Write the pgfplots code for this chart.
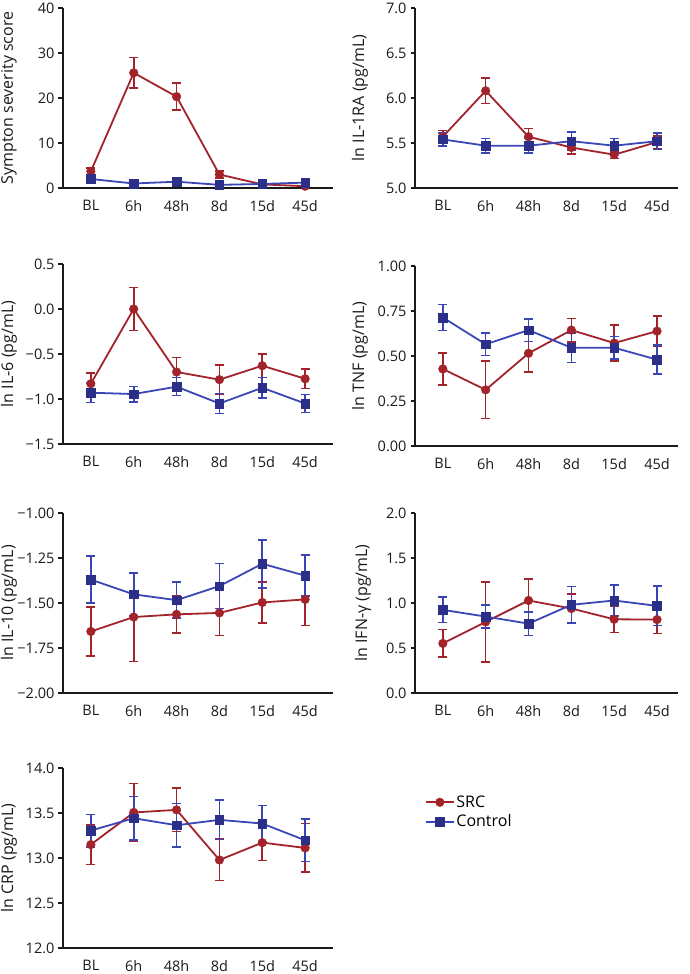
\documentclass[border=0pt]{standalone}
\usepackage{fontspec}
\setmainfont{Open Sans}
\usepackage{pgfplots}
\pgfplotsset{compat=1.18}
\definecolor{srcred}{HTML}{A3232B}
\definecolor{ctlblue}{HTML}{3A46B5}
\definecolor{ctlnavy}{HTML}{2B2F88}
\definecolor{axcol}{HTML}{1A1A1A}
\newcommand{\pf}{\fontsize{16}{19}\selectfont}
\newcommand{\tf}{\fontsize{14.5}{17}\selectfont}
\pgfplotsset{
  panel/.style={
    scale only axis, width=270pt, height=180pt, anchor=south west,
    axis x line=bottom, axis y line=left,
    axis line style={-, line width=1.6pt, color=axcol},
    xmin=-0.65, xmax=5.65,
    xtick={0,...,5}, xticklabels={BL,6h,48h,8d,15d,45d},
    xtick style={draw=none},
    ytick style={line width=1.4pt, color=axcol},
    tick align=outside, major tick length=4.5pt,
    tick label style={font=\tf, text=axcol},
    xticklabel style={yshift=-4pt},
    yticklabel style={xshift=-0.5pt},
    label style={font=\pf, text=axcol},
    ylabel style={at={(axis description cs:-0.2,0.5)}, anchor=center},
    clip=false,
    legend image code/.code={\draw[mark repeat=2,mark phase=2] plot coordinates {(0cm,0cm) (0.48cm,0cm) (0.96cm,0cm)};},
  },
  right panel/.style={panel, width=263pt, xmax=5.49, ylabel style={at={(axis description cs:-0.209,0.5)}}},
  src/.style={color=srcred, line width=1.8pt, mark=*, mark size=4.3pt,
     mark options={fill=srcred, draw=srcred, line width=0.5pt},
     error bars/.cd, y dir=both, y explicit,
     error bar style={line width=1.6pt, srcred},
     error mark options={rotate=90, mark size=4.5pt, line width=1.6pt, srcred}},
  ctl/.style={color=ctlblue, line width=1.8pt, mark=square*, mark size=4.3pt,
     mark options={fill=ctlnavy, draw=ctlnavy, line width=0.5pt},
     error bars/.cd, y dir=both, y explicit,
     error bar style={line width=1.6pt, ctlblue},
     error mark options={rotate=90, mark size=4.5pt, line width=1.6pt, ctlblue}},
}
\begin{document}
\begin{tikzpicture}
\path[use as bounding box] (0pt,0pt) rectangle (689pt,-974pt);

% Panel 1
\begin{axis}[panel, at={(63pt,-188pt)},
  ymin=0, ymax=40, ytick={0,10,20,30,40}, yticklabels={0,10,20,30,40},
  ylabel={Sympton severity score}]
\addplot+[src] coordinates {(0,3.7)+-(0,0.8) (1,25.6)+-(0,3.4) (2,20.3)+-(0,3.0) (3,3.0)+-(0,0.8) (4,0.8)+-(0,0.3) (5,0.4)+-(0,0.3)};
\addplot+[ctl] coordinates {(0,2.0)+-(0,0.4) (1,1.0)+-(0,0.3) (2,1.4)+-(0,0.3) (3,0.7)+-(0,0.2) (4,0.9)+-(0,0.2) (5,1.2)+-(0,0.3)};
\end{axis}

% Panel 2
\begin{axis}[right panel, at={(415pt,-188pt)},
  ymin=5, ymax=7, ytick={5,5.5,6,6.5,7}, yticklabels={5.0,5.5,6.0,6.5,7.0},
  ylabel={ln IL-1RA (pg/mL)}]
\addplot+[src] coordinates {(0,5.57)+-(0,0.07) (1,6.08)+-(0,0.14) (2,5.57)+-(0,0.09) (3,5.45)+-(0,0.07) (4,5.37)+-(0,0.04) (5,5.51)+-(0,0.07)};
\addplot+[ctl] coordinates {(0,5.54)+-(0,0.07) (1,5.47)+-(0,0.08) (2,5.47)+-(0,0.08) (3,5.52)+-(0,0.10) (4,5.47)+-(0,0.08) (5,5.52)+-(0,0.09)};
\end{axis}

% Panel 3
\begin{axis}[panel, at={(63pt,-444pt)},
  ymin=-1.5, ymax=0.5, ytick={-1.5,-1,-0.5,0,0.5}, yticklabels={−1.5,−1.0,−0.5,0.0,0.5},
  ylabel={ln IL-6 (pg/mL)}]
\addplot+[src] coordinates {(0,-0.83)+-(0,0.12) (1,0.0)+-(0,0.24) (2,-0.70)+-(0,0.16) (3,-0.785)+-(0,0.16) (4,-0.63)+-(0,0.13) (5,-0.775)+-(0,0.11)};
\addplot+[ctl] coordinates {(0,-0.93)+-(0,0.11) (1,-0.945)+-(0,0.085) (2,-0.863)+-(0,0.1) (3,-1.05)+-(0,0.11) (4,-0.875)+-(0,0.115) (5,-1.05)+-(0,0.1)};
\end{axis}

% Panel 4
\begin{axis}[right panel, at={(415pt,-446pt)},
  ymin=0, ymax=1, ytick={0,0.25,0.5,0.75,1}, yticklabels={0.00,0.25,0.50,0.75,1.00},
  ylabel={ln TNF (pg/mL)}]
\addplot+[src] coordinates {(0,0.428)+-(0,0.09) (1,0.312)+-(0,0.16) (2,0.515)+-(0,0.105) (3,0.644)+-(0,0.065) (4,0.572)+-(0,0.10) (5,0.638)+-(0,0.085)};
\addplot+[ctl] coordinates {(0,0.714)+-(0,0.072) (1,0.565)+-(0,0.062) (2,0.644)+-(0,0.063) (3,0.546)+-(0,0.083) (4,0.546)+-(0,0.063) (5,0.48)+-(0,0.08)};
\end{axis}

% Panel 5
\begin{axis}[panel, at={(63pt,-693pt)},
  ymin=-2, ymax=-1, ytick={-2,-1.75,-1.5,-1.25,-1}, yticklabels={−2.00,−1.75,−1.50,−1.25,−1.00},
  ylabel={ln IL-10 (pg/mL)}]
\addplot+[src] coordinates {(0,-1.658)+-(0,0.137) (1,-1.578) += (0,0.14) -= (0,0.248) (2,-1.563)+-(0,0.105) (3,-1.555)+-(0,0.125) (4,-1.497)+-(0,0.115) (5,-1.48)+-(0,0.146)};
\addplot+[ctl] coordinates {(0,-1.37)+-(0,0.13) (1,-1.452)+-(0,0.12) (2,-1.484)+-(0,0.10) (3,-1.406)+-(0,0.125) (4,-1.282)+-(0,0.133) (5,-1.348)+-(0,0.114)};
\end{axis}

% Panel 6
\begin{axis}[right panel, at={(415pt,-693pt)},
  ymin=0, ymax=2, ytick={0,0.5,1,1.5,2}, yticklabels={0.0,0.5,1.0,1.5,2.0},
  ylabel={ln IFN-γ (pg/mL)}, ylabel style={at={(axis description cs:-0.198,0.5)}}]
\addplot+[src] coordinates {(0,0.551)+-(0,0.153) (1,0.79)+-(0,0.445) (2,1.028)+-(0,0.24) (3,0.939)+-(0,0.16) (4,0.819)+-(0,0.145) (5,0.816)+-(0,0.157)};
\addplot+[ctl] coordinates {(0,0.924)+-(0,0.14) (1,0.849)+-(0,0.13) (2,0.771)+-(0,0.13) (3,0.98)+-(0,0.205) (4,1.028)+-(0,0.17) (5,0.968)+-(0,0.22)};
\end{axis}

% Panel 7
\begin{axis}[panel, at={(63pt,-948pt)},
  ymin=12, ymax=14, ytick={12,12.5,13,13.5,14}, yticklabels={12.0,12.5,13.0,13.5,14.0},
  ylabel={ln CRP (pg/mL)},
  legend style={draw=none, fill=none, at={(axis description cs:1.33,0.755)}, anchor=west,
    font=\pf, row sep=2pt},
  legend cell align=left]
\addplot+[src] coordinates {(0,13.149)+-(0,0.22) (1,13.506)+-(0,0.32) (2,13.535)+-(0,0.24) (3,12.978)+-(0,0.23) (4,13.171)+-(0,0.2) (5,13.112)+-(0,0.27)};
\addlegendentry{SRC}
\addplot+[ctl] coordinates {(0,13.305)+-(0,0.18) (1,13.442)+-(0,0.24) (2,13.364)+-(0,0.24) (3,13.424)+-(0,0.22) (4,13.383)+-(0,0.2) (5,13.197)+-(0,0.235)};
\addlegendentry{Control}
\end{axis}
\end{tikzpicture}
\end{document}
